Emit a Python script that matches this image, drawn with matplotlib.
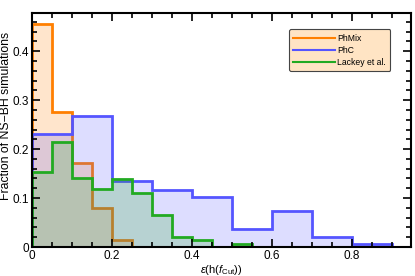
import matplotlib
matplotlib.use("Agg")
import matplotlib.pyplot as plt
import numpy as np
from matplotlib.ticker import MultipleLocator

plt.rcParams['font.family'] = ['Liberation Sans', 'DejaVu Sans']
plt.rcParams['mathtext.fontset'] = 'custom'
plt.rcParams['mathtext.it'] = 'Liberation Sans:italic'
plt.rcParams['mathtext.rm'] = 'Liberation Sans'

# Data (fractions per bin)
phmix_edges = [0.0, 0.05, 0.10, 0.15, 0.20, 0.25]
phmix_vals = [0.455, 0.275, 0.171, 0.080, 0.014]

phc_edges = [0.0, 0.1, 0.2, 0.3, 0.4, 0.5, 0.6, 0.7, 0.8, 0.9]
phc_vals = [0.230, 0.268, 0.134, 0.117, 0.103, 0.036, 0.074, 0.021, 0.006]

lackey_edges = [0.0, 0.05, 0.10, 0.15, 0.20, 0.25, 0.30, 0.35, 0.40, 0.45, 0.50, 0.55]
lackey_vals = [0.154, 0.214, 0.140, 0.118, 0.139, 0.111, 0.065, 0.021, 0.014, 0.001, 0.007]

series = [
    ("PhMix", phmix_edges, phmix_vals, "#ff7f00"),
    ("PhC", phc_edges, phc_vals, "#5555ff"),
    ("Lackey et al.", lackey_edges, lackey_vals, "#22aa22"),
]

fig = plt.figure(figsize=(4.15, 2.76), dpi=100)
ax = fig.add_axes([0.077, 0.105, 0.913, 0.848])

handles = []
for label, edges, vals, col in series:
    edges = np.array(edges)
    widths = np.diff(edges)
    ax.bar(edges[:-1], vals, width=widths, align='edge', color=col, alpha=0.2, linewidth=0)
    ax.stairs(vals, edges, color=col, linewidth=2, label=label)
    handles.append(plt.Line2D([], [], color=col, lw=1.5, label=label))

ax.set_xlim(0, 0.947)
ax.set_ylim(0, 0.478)
ax.xaxis.set_minor_locator(MultipleLocator(0.05))
ax.yaxis.set_minor_locator(MultipleLocator(0.02))
ax.set_xticks([0, 0.2, 0.4, 0.6, 0.8])
ax.set_xticklabels(["0", "0.2", "0.4", "0.6", "0.8"])
ax.set_yticks([0, 0.1, 0.2, 0.3, 0.4])
ax.set_yticklabels(["0", "0.1", "0.2", "0.3", "0.4"])
ax.tick_params(which='both', direction='in', top=True, right=True, labelsize=8.5, width=1.2, pad=2)
ax.tick_params(which='major', length=6)
ax.tick_params(which='minor', length=3.5)
for s in ax.spines.values():
    s.set_linewidth(1.5)

ax.set_xlabel(r"$\epsilon$(h($f_{\rm Cut}$))", fontsize=8, labelpad=1)
ax.set_ylabel("Fraction of NS\u2212BH simulations", fontsize=8.8)
ax.yaxis.set_label_coords(-0.052, 0.56)

leg = ax.legend(handles=handles, loc='upper right', bbox_to_anchor=(0.946, 0.93), fontsize=6.2,
                facecolor='bisque', edgecolor='#444444', framealpha=1, fancybox=True,
                handlelength=4.8, handletextpad=0.3, borderpad=0.5, labelspacing=0.35,
                borderaxespad=0)
leg.get_frame().set_linewidth(0.8)

fig.savefig("out.png", dpi=100)
